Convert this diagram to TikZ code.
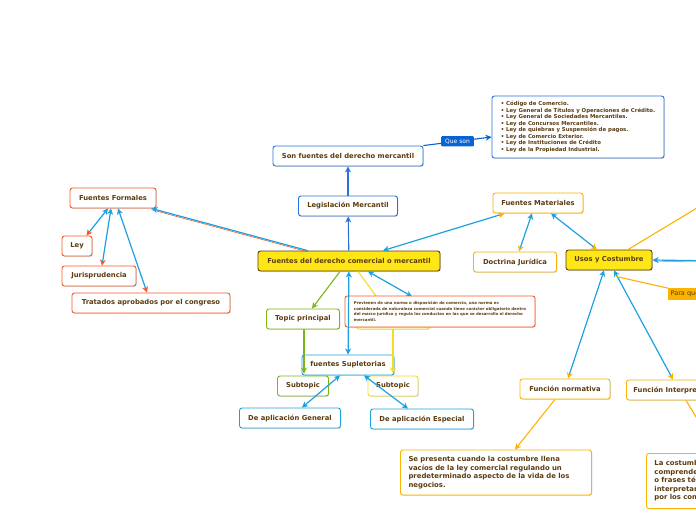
\documentclass[tikz,border=0pt]{standalone}
\usepackage{fontspec}
\setmainfont{DejaVu Sans}
\usetikzlibrary{arrows.meta,shadows,calc}
\definecolor{textbrown}{HTML}{5b3c11}
\definecolor{linkblue}{HTML}{1ba1e2}
\definecolor{darkblue}{HTML}{2a72d6}
\definecolor{queblue}{HTML}{0a63d2}
\definecolor{redline}{HTML}{f15a24}
\definecolor{amber}{HTML}{f9b300}
\definecolor{leafgreen}{HTML}{7cb518}
\definecolor{mainyellow}{HTML}{ffe617}
\definecolor{paleyellow}{HTML}{f2dc27}
\tikzset{
	% ------- every something
	every node/.style={
		font=\bfseries\fontsize{6.8}{8}\selectfont,
		text=textbrown,
	},
	% ------- custom
	hd/.tip={Stealth[length=6pt,width=6pt,inset=1.8pt]},
	topic/.style={
		draw=#1,
		fill=white,
		rounded corners=2.5pt,
		line width=0.9pt,
		inner sep=0pt,
		minimum height=20pt,
		drop shadow={shadow xshift=0.8pt, shadow yshift=-0.8pt, opacity=0.3},
	},
	central/.style={
		topic=textbrown,
		fill=mainyellow,
	},
	link/.style={
		draw=linkblue,
		line width=1.2pt,
	},
	twoway/.style={
		link,
		{hd}-{hd[color=#1]},
	},
	branch/.style={
		draw=#1,
		line width=1.1pt,
		-{hd},
	},
	tiny/.style={
		font=\bfseries\fontsize{3.9}{5.4}\selectfont,
	},
	paragraph/.style={
		font=\bfseries\fontsize{6.9}{8.5}\selectfont,
	},
}

\begin{document}
\begin{tikzpicture}[x=1pt,y=-1pt]

% frame %{{{2

	\useasboundingbox (0,0) rectangle (696,520);
	\clip (0,0) rectangle (696,520);

% main nodes %{{{2

	\node[central, minimum width=182pt] (fdc) at (349,261)
		{Fuentes del derecho comercial o mercantil};
	\node[topic=darkblue, minimum width=99pt] (legis) at (348,206)
		{Legislación Mercantil};
	\node[topic=darkblue, minimum width=150pt] (son) at (348,156)
		{Son fuentes del derecho mercantil};
	\node[topic=darkblue, minimum width=172pt, minimum height=62pt, align=left,
		font=\bfseries\fontsize{5.4}{6.5}\selectfont] (leyes) at (578,127)
		{• Código de Comercio.\\
		 • Ley General de Títulos y Operaciones de Crédito.\\
		 • Ley General de Sociedades Mercantiles.\\
		 • Ley de Concursos Mercantiles.\\
		 • Ley de quiebras y Suspensión de pagos.\\
		 • Ley de Comercio Exterior.\\
		 • Ley de Instituciones de Crédito\\
		 • Ley de la Propiedad Industrial.};

% fuentes formales %{{{2

	\node[topic=redline, minimum width=86pt] (formales) at (113,198) {Fuentes Formales};
	\node[topic=redline, minimum width=30pt] (ley) at (77,246) {Ley};
	\node[topic=redline, minimum width=74pt] (juris) at (99,276) {Jurisprudencia};
	\node[topic=redline, minimum width=158pt] (tratados) at (151,303)
		{Tratados aprobados por el congreso};

% fuentes materiales %{{{2

	\node[topic=amber, minimum width=90pt] (materiales) at (538,203) {Fuentes Materiales};
	\node[topic=amber, minimum width=83pt] (doctrina) at (515,262) {Doctrina Jurídica};
	\node[central, minimum width=86pt] (usos) at (609,260) {Usos y Costumbre};
	\node[topic=amber, minimum width=90pt] (normativa) at (565,389) {Función normativa};
	\node[topic=amber, paragraph, minimum height=45pt, text width=175pt, inner xsep=8pt, align=left]
		(presenta) at (496,472.5)
		{Se presenta cuando la costumbre llena\\
		 vacíos de la ley comercial regulando un\\
		 predeterminado aspecto de la vida de los\\
		 negocios.};
	\node[topic=amber, minimum width=100pt, anchor=west] (interpre) at (626,390)
		{Función Interpretativa};
	\node[topic=amber, paragraph, minimum height=55pt, text width=140pt, inner xsep=8pt,
		anchor=north west, align=left] (costumbre) at (646,453)
		{La costumbre permite\\
		 comprender palabras\\
		 o frases técnicas e\\
		 interpretar los actos\\
		 por los comerciantes.};
	\node[fill=amber, inner sep=2.5pt, anchor=west, font=\fontsize{6.5}{7}\selectfont] (para) at (668,294)
		{Para que sirve};

% fuentes supletorias %{{{2

	\node[topic=leafgreen, minimum width=73pt] (topic) at (303,319) {Topic principal};
	\node[topic=paleyellow, minimum width=73pt] (hidden) at (393,319) {};
	\draw[paleyellow, line width=1.1pt] ($(fdc.south)+(9,0)$) -- (hidden);
	\draw[twoway=linkblue] ($(fdc.south)+(19,0)$) -- ($(fdc.south)+(63,25)$) coordinate (redtip);
	\node[topic=redline, minimum width=190pt, minimum height=31pt, align=left, tiny] (previenen) at (440,311.5)
		{Previenen de una norma o disposición de comercio, una norma es\\
		 considerada de naturaleza comercial cuando tiene carácter obligatorio dentro\\
		 del marco jurídico y regula las conductas en las que se desarrolla el derecho\\
		 mercantil.};

	\node[topic=linkblue, minimum width=92pt] (supletorias) at (348,365) {fuentes Supletorias};
	\node[topic=leafgreen, minimum width=51pt] (subA) at (303,386) {Subtopic};
	\node[topic=paleyellow, minimum width=50pt] (subB) at (393,386) {Subtopic};
	\node[topic=linkblue, minimum width=101pt] (general) at (290,418) {De aplicación General};
	\node[topic=linkblue, minimum width=103pt] (especial) at (422,419) {De aplicación Especial};

% connectors %{{{2

	\draw[branch=darkblue] (fdc) -- (legis);
	\draw[branch=darkblue] (legis) -- (son);
	\draw[branch=queblue] (son.north east) -- node[fill=queblue, rounded corners=1pt, inner xsep=4pt,
		inner ysep=2.5pt, text=white, font=\fontsize{6}{7}\selectfont] (queson) {Que son}
		($(leyes.west)+(0,10)$);

	\draw[redline, line width=0.6pt] ($(fdc.north west)+(50,1.2)$) -- ($(formales.south east)+(-5,1.2)$);
	\draw[link, -{hd}] ($(fdc.north west)+(50,0)$) -- ($(formales.south east)+(-5,0)$);
	\draw[twoway=redline] ($(formales.south)+(-5,0)$) -- ($(ley.north east)+(-6,0)$);
	\draw[twoway=redline] ($(formales.south)+(-2,0)$) -- ($(juris.north)+(3,0)$);
	\draw[twoway=redline] ($(formales.south)+(5,0)$) -- ($(tratados.north)+(-4,0)$);

	\draw[twoway=amber] ($(fdc.north)+(34,0)$) -- ($(materiales.south west)+(12,0)$);
	\draw[twoway=amber] ($(materiales.south)+(-6,0)$) -- ($(doctrina.north)+(4,0)$);
	\draw[twoway=amber] ($(materiales.south)+(13,0)$) -- ($(usos.north)+(-12,0)$);
	\draw[twoway=amber] ($(usos.south)+(-5,0)$) -- ($(normativa.north)+(3,0)$);
	\draw[twoway=amber] ($(usos.south)+(5,0)$) -- ($(interpre.north west)+(47,0)$);
	\draw[branch=amber] ($(normativa.south)+(-10,0)$) -- ($(presenta.north)+(19,0)$);
	\draw[amber, line width=1.1pt] ($(interpre.south west)+(60,0)$) -- (704,430);

	\draw[amber, line width=1.1pt] ($(usos.north)+(19,0)$) -- (750,176);
	\draw[amber, line width=0.8pt] (720,262.2) -- ($(usos.east)+(2,1.2)$);
	\draw[link, -{hd}] (720,261) -- (usos.east);
	\draw[amber, line width=1.1pt] ($(usos.south)+(7,6)$) -- (para.north west);

	\draw[twoway=linkblue] (fdc) -- (supletorias);
	\draw[branch=leafgreen] ($(fdc.south)+(-9,0)$) -- ($(topic.north)+(9,0)$);
	\draw[branch=leafgreen] ($(topic.south)+(1,0)$) -- ($(subA.north)+(1,-2)$);
	\draw[branch=paleyellow] ($(previenen.south)+(-47,2)$) -- ($(subB.north)+(0,-2)$);
	\draw[twoway=linkblue] ($(supletorias.south)+(-8,0)$) -- ($(general.north)+(12,0)$);
	\draw[twoway=linkblue] ($(supletorias.south)+(16,0)$) -- ($(especial.north)+(-14,0)$);

\end{tikzpicture}
\end{document}
